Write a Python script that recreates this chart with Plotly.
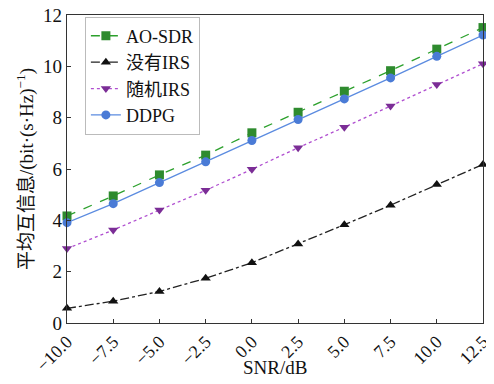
import plotly.graph_objects as go

snr = [-10.0, -7.5, -5.0, -2.5, 0.0, 2.5, 5.0, 7.5, 10.0, 12.5]
ao_sdr = [4.17, 4.95, 5.77, 6.54, 7.41, 8.21, 9.03, 9.83, 10.67, 11.51]
no_irs = [0.57, 0.85, 1.23, 1.74, 2.35, 3.08, 3.83, 4.59, 5.40, 6.18]
rand_irs = [2.90, 3.62, 4.40, 5.17, 5.99, 6.83, 7.63, 8.45, 9.29, 10.10]
ddpg = [3.91, 4.65, 5.47, 6.28, 7.11, 7.93, 8.73, 9.55, 10.39, 11.22]
xticks = [-10.0, -7.5, -5.0, -2.5, 0.0, 2.5, 5.0, 7.5, 10.0, 12.5]
yticks = [0, 2, 4, 6, 8, 10, 12]

FONT = "Liberation Serif, Times New Roman, Noto Sans CJK SC, serif"

fig = go.Figure()
series = [
    ("AO-SDR", ao_sdr, "#2ca02c", "#2e8b2e", "dash", "square"),
    ("没有IRS", no_irs, "#222222", "#111111", "dashdot", "triangle-up"),
    ("随机IRS", rand_irs, "#b04fd0", "#7b2d96", "dot", "triangle-down"),
    ("DDPG", ddpg, "#5b8be0", "#4a7bd6", "solid", "circle"),
]
for name, ys, lc, mc, dash, sym in series:
    fig.add_trace(go.Scatter(
        x=snr, y=ys, name=name, mode="lines+markers",
        line=dict(color=lc, width=1.3, dash=dash),
        marker=dict(symbol=sym, size=9, color=mc),
        cliponaxis=False,
    ))

# page body adds ~8px offset; figure sized to fill the remaining window
fig.update_layout(
    width=486, height=376,
    margin=dict(l=59, r=11, t=7, b=61),
    paper_bgcolor="white", plot_bgcolor="white",
    font=dict(family=FONT, size=19, color="#111111"),
    showlegend=True,
    legend=dict(
        x=0.043, y=0.995, xanchor="left", yanchor="top",
        bgcolor="rgba(255,255,255,0.9)", bordercolor="#bbbbbb", borderwidth=1,
        font=dict(family=FONT, size=18),
        tracegroupgap=0, itemwidth=30,
    ),
    xaxis=dict(
        range=[-10, 12.5], tickvals=xticks,
        ticktext=[("−" if v < 0 else "") + f"{abs(v):.1f}" for v in xticks],
        tickangle=-45, ticks="inside", ticklen=4, tickcolor="#333",
        showline=True, linecolor="#333", linewidth=1.2, mirror=True,
        showgrid=False, zeroline=False, automargin=False,
        ticklabeloverflow="allow", ticklabelstandoff=0,
        tickfont=dict(size=18),
    ),
    yaxis=dict(
        range=[0, 12], tickvals=yticks,
        ticks="inside", ticklen=4, tickcolor="#333",
        showline=True, linecolor="#333", linewidth=1.2, mirror=True,
        showgrid=False, zeroline=False, automargin=False,
        ticklabeloverflow="allow",
        title=dict(text="平均互信息/(bit·(s·Hz)<sup>−1</sup>)", standoff=4, font=dict(size=19)),
        tickfont=dict(size=19),
    ),
    annotations=[dict(
        text="SNR/dB", xref="paper", yref="paper", x=0.5, y=0,
        xanchor="center", yanchor="middle", yshift=-44, showarrow=False,
        font=dict(family=FONT, size=19),
    )],
)

fig.write_html("out.html")
